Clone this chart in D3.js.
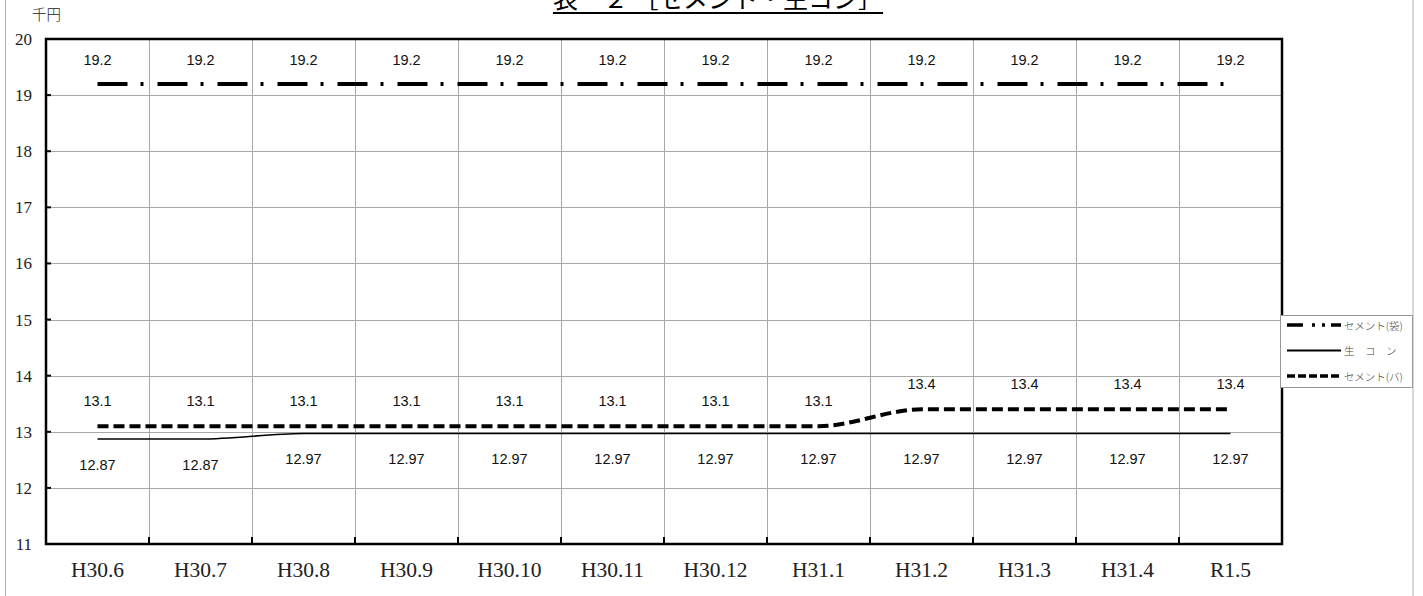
<!DOCTYPE html>
<html>
<head>
<meta charset="utf-8">
<script src="https://cdn.jsdelivr.net/npm/d3@7"></script>
<style>
  html, body { margin: 0; padding: 0; background: #fff; }
  svg { display: block; }
</style>
</head>
<body>
<svg id="chart" width="1423" height="596"></svg>
<script>
// Monthly prices (thousand yen)
const months = ["H30.6","H30.7","H30.8","H30.9","H30.10","H30.11","H30.12","H31.1","H31.2","H31.3","H31.4","R1.5"];
const cementBag  = [19.2,19.2,19.2,19.2,19.2,19.2,19.2,19.2,19.2,19.2,19.2,19.2];
const readyMix   = [12.87,12.87,12.97,12.97,12.97,12.97,12.97,12.97,12.97,12.97,12.97,12.97];
const cementBulk = [13.1,13.1,13.1,13.1,13.1,13.1,13.1,13.1,13.4,13.4,13.4,13.4];
const yTicks = [11,12,13,14,15,16,17,18,19,20];
const seriesNames = ["セメント(袋)", "生　コ　ン", "セメント(バ)"];

const svg = d3.select("#chart");
const plot = { left: 46, right: 1282, top: 39, bottom: 544 };

const x = d3.scaleBand().domain(months).range([plot.left, plot.right]).padding(0);
const y = d3.scaleLinear().domain([11, 20]).range([plot.bottom, plot.top]);
const cx = d => x(d) + x.bandwidth() / 2;

// outer chart frame
svg.append("rect")
  .attr("x", 5.5).attr("y", -10).attr("width", 1407.5).attr("height", 620)
  .attr("fill", "none").attr("stroke", "#b0b0b0").attr("stroke-width", 1);

// title
const title = svg.append("text")
  .attr("x", 718).attr("y", 8)
  .attr("text-anchor", "middle")
  .attr("font-family", "'Noto Sans CJK JP', sans-serif")
  .attr("font-size", 25)
  .attr("fill", "#000")
  .text("表－２ ［セメント・生コン］");
const tb = title.node().getBBox();
svg.append("line")
  .attr("x1", tb.x).attr("x2", tb.x + tb.width)
  .attr("y1", 13).attr("y2", 13)
  .attr("stroke", "#000").attr("stroke-width", 2);

// unit label
svg.append("text")
  .attr("x", 32).attr("y", 20)
  .attr("font-family", "'Noto Sans CJK JP', sans-serif")
  .attr("font-size", 14.5)
  .attr("font-weight", 300)
  .attr("fill", "#222")
  .text("千円");

// gridlines
const grid = svg.append("g").attr("stroke", "#a8a8a8").attr("stroke-width", 1);
grid.selectAll("line.h").data(yTicks.slice(1, -1)).join("line")
  .attr("x1", plot.left).attr("x2", plot.right)
  .attr("y1", d => Math.round(y(d)) + 0.5).attr("y2", d => Math.round(y(d)) + 0.5);
grid.selectAll("line.v").data(months.slice(1)).join("line")
  .attr("x1", d => Math.round(x(d)) + 0.5).attr("x2", d => Math.round(x(d)) + 0.5)
  .attr("y1", plot.top).attr("y2", plot.bottom);

// y-axis labels and inner ticks
const yAxis = d3.axisLeft(y).tickValues(yTicks).tickSize(0).tickPadding(14).tickFormat(d3.format("d"));
const yG = svg.append("g").attr("transform", `translate(${plot.left},0)`).call(yAxis);
yG.select(".domain").remove();
yG.selectAll("text")
  .attr("font-family", "'Liberation Serif', serif")
  .attr("font-size", 17).attr("fill", "#222");
svg.append("g").selectAll("line").data(yTicks).join("line")
  .attr("x1", plot.left).attr("x2", plot.left + 5)
  .attr("y1", d => y(d)).attr("y2", d => y(d))
  .attr("stroke", "#000").attr("stroke-width", 2);

// x-axis labels and inner ticks
const xAxis = d3.axisBottom(x).tickSize(0).tickPadding(18);
const xG = svg.append("g").attr("transform", `translate(0,${plot.bottom})`).call(xAxis);
xG.select(".domain").remove();
xG.selectAll("text")
  .attr("font-family", "'Liberation Serif', serif")
  .attr("font-size", 21.5).attr("fill", "#222");
svg.append("g").selectAll("line").data(months.slice(1)).join("line")
  .attr("x1", d => x(d)).attr("x2", d => x(d))
  .attr("y1", plot.bottom).attr("y2", plot.bottom - 7)
  .attr("stroke", "#000").attr("stroke-width", 2);

// plot border
svg.append("rect")
  .attr("x", plot.left).attr("y", plot.top)
  .attr("width", plot.right - plot.left).attr("height", plot.bottom - plot.top)
  .attr("fill", "none").attr("stroke", "#000").attr("stroke-width", 2.5);

// series lines
const series = [
  { values: cementBag,  width: 4,   dash: "30 13 3 14", labelDy: -24 },
  { values: readyMix,   width: 1.6, dash: null,         labelDy: 26 },
  { values: cementBulk, width: 4,   dash: "11 5",       labelDy: -25 }
];
const line = d3.line()
  .x((d, i) => cx(months[i]))
  .y(d => y(d))
  .curve(d3.curveMonotoneX);

series.forEach(s => {
  svg.append("path")
    .datum(s.values)
    .attr("d", line)
    .attr("fill", "none")
    .attr("stroke", "#000")
    .attr("stroke-width", s.width)
    .attr("stroke-dasharray", s.dash);
  svg.append("g").selectAll("text").data(s.values).join("text")
    .attr("x", (d, i) => cx(months[i]))
    .attr("y", d => y(d) + s.labelDy)
    .attr("text-anchor", "middle")
    .attr("dominant-baseline", "central")
    .attr("font-family", "'Liberation Sans', Arial, sans-serif")
    .attr("font-size", 14.5)
    .attr("fill", "#111")
    .text(d => d);
});

// legend
const legend = svg.append("g").attr("transform", "translate(1280,315)");
legend.append("rect")
  .attr("x", 0.5).attr("y", 0.5).attr("width", 132).attr("height", 72)
  .attr("fill", "#fff").attr("stroke", "#999").attr("stroke-width", 1);
const legendDash = ["16 9 3 7 3 6", null, "8 3"];
const legendWidth = [3.5, 1.8, 3.5];
seriesNames.forEach((name, i) => {
  const ly = 10 + i * 25.5;
  legend.append("line")
    .attr("x1", 7).attr("x2", 61).attr("y1", ly).attr("y2", ly)
    .attr("stroke", "#000").attr("stroke-width", legendWidth[i])
    .attr("stroke-dasharray", legendDash[i]);
  legend.append("text")
    .attr("x", 64).attr("y", ly)
    .attr("dominant-baseline", "central")
    .attr("font-family", "'Noto Sans CJK JP', sans-serif")
    .attr("font-size", 10.5)
    .attr("font-weight", 300)
    .attr("fill", "#444")
    .text(name);
});
</script>
</body>
</html>
